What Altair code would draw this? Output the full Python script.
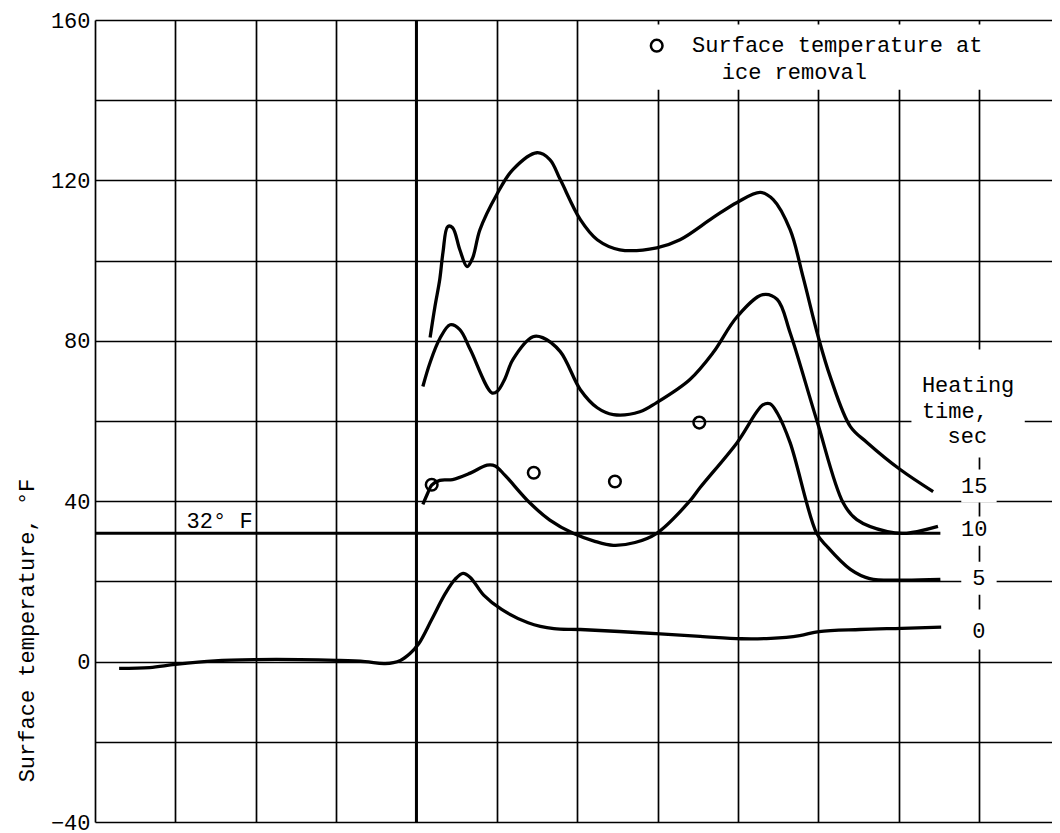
import altair as alt
import pandas as pd

FONT = "Liberation Mono"

# Curves (x in grid divisions, y in deg F)
x_0 = [0.30, 0.68, 1.00, 1.49, 2.00, 2.55, 3.01, 3.36, 3.61, 3.80, 3.92, 4.03, 4.19, 4.36, 4.48, 4.58, 4.67, 4.84, 5.06, 5.39, 5.71, 6.04, 6.79, 7.53, 8.04, 8.41, 8.77, 9.01, 9.52, 10.04, 10.53]
y_0 = [-1.7, -1.5, -0.7, 0.2, 0.5, 0.5, 0.3, 0.0, -0.5, 0.3, 2.0, 4.5, 10.5, 17.0, 20.5, 22.0, 21.0, 16.5, 13.0, 9.7, 8.2, 8.0, 7.2, 6.3, 5.7, 5.8, 6.5, 7.5, 8.0, 8.3, 8.6]

x_5 = [4.08, 4.14, 4.19, 4.29, 4.45, 4.67, 4.88, 4.98, 5.10, 5.41, 5.66, 5.95, 6.22, 6.45, 6.72, 6.99, 7.40, 7.53, 7.99, 8.31, 8.40, 8.49, 8.65, 8.98, 9.11, 9.40, 9.64, 10.02, 10.52]
y_5 = [39.2, 42.0, 44.0, 45.2, 45.4, 47.0, 49.0, 48.8, 46.5, 39.6, 35.3, 32.0, 30.0, 29.0, 29.7, 32.0, 40.0, 43.4, 54.6, 64.0, 64.3, 62.0, 54.6, 32.0, 28.7, 23.0, 20.7, 20.3, 20.5]

x_10 = [4.08, 4.17, 4.29, 4.42, 4.54, 4.67, 4.94, 5.01, 5.10, 5.20, 5.45, 5.57, 5.79, 6.04, 6.25, 6.45, 6.78, 6.99, 7.40, 7.69, 7.99, 8.31, 8.49, 8.65, 8.98, 9.31, 9.48, 9.86, 10.10, 10.49]
y_10 = [68.6, 74.6, 80.5, 84.0, 82.8, 77.8, 67.0, 67.5, 70.5, 75.3, 81.0, 80.8, 77.3, 67.8, 63.3, 61.6, 62.3, 64.6, 70.3, 77.0, 86.0, 91.5, 90.3, 82.0, 60.3, 39.6, 35.4, 32.4, 32.0, 33.7]

x_15 = [4.17, 4.23, 4.29, 4.33, 4.39, 4.45, 4.54, 4.63, 4.70, 4.79, 5.00, 5.20, 5.50, 5.66, 5.79, 6.04, 6.25, 6.53, 6.99, 7.28, 7.69, 7.99, 8.28, 8.44, 8.65, 8.81, 9.00, 9.15, 9.40, 9.61, 10.02, 10.43]
y_15 = [80.8, 88.5, 95.3, 102.0, 108.5, 108.2, 102.7, 98.5, 100.7, 107.7, 116.5, 122.7, 126.9, 125.2, 120.2, 110.2, 105.2, 102.7, 103.2, 105.2, 110.7, 114.5, 117.0, 115.2, 107.7, 96.0, 81.0, 71.0, 58.6, 54.6, 47.9, 42.4]

# Surface temperature at ice removal
ice_x = [4.19, 5.46, 6.47, 7.52]
ice_y = [44.1, 47.1, 44.9, 59.6]

# Heating-time labels
heat_labels = ["15", "10", "5", "0"]
heat_label_x = [10.94, 10.94, 11.0, 11.0]
heat_label_y = [42.1, 31.2, 19.2, 6.0]
heat_bg_y1 = [47.9, 36.2, 24.9, 13.0]
heat_bg_y2 = [39.7, 28.9, 16.7, 3.0]

y_ticks = [-40, -20, 0, 20, 40, 60, 80, 100, 120, 140, 160]
x_ticks = list(range(0, 12))

rows = []
for name, xs_, ys_ in [("0", x_0, y_0), ("5", x_5, y_5), ("10", x_10, y_10), ("15", x_15, y_15)]:
    for i, (a, b) in enumerate(zip(xs_, ys_)):
        rows.append({"series": name, "x": a, "y": b, "order": i})
curves_df = pd.DataFrame(rows)

xs = alt.Scale(domain=[0, 11.909], nice=False, zero=False)
ys = alt.Scale(domain=[-40, 160], nice=False, zero=False)

x_enc = alt.X("x:Q", scale=xs, axis=alt.Axis(values=x_ticks, labels=False, ticks=False,
                                             domain=False, grid=True, title=None))
y_axis = alt.Axis(values=y_ticks, ticks=False, domain=False, grid=True,
                  labelExpr="datum.value % 40 == 0 ? datum.label : ''",
                  labelFont=FONT, labelFontSize=22, labelColor="black", labelPadding=5,
                  title="Surface temperature, °F", titleFont=FONT, titleFontSize=22,
                  titleFontWeight="normal", titleColor="black", titleAngle=270,
                  titleX=-62, titleY=610, titleAlign="center", titleBaseline="alphabetic")
y_enc = alt.Y("y:Q", scale=ys, axis=y_axis)

base = alt.Chart(curves_df).mark_line(opacity=0).encode(x=x_enc, y=y_enc, detail="series:N")

# White background boxes behind annotations
bg_df = pd.DataFrame({
    "x1": [6.35, 10.16] + [10.78] * 4,
    "x2": [11.909, 11.57] + [11.22] * 4,
    "y1": [158.9, 77.8] + heat_bg_y1,
    "y2": [142.6, 50.9] + heat_bg_y2,
})
bg = alt.Chart(bg_df).mark_rect(fill="white").encode(
    x=alt.X("x1:Q", scale=xs), x2="x2:Q",
    y=alt.Y("y1:Q", scale=ys), y2="y2:Q")

vline = alt.Chart(pd.DataFrame({"x": [4.0]})).mark_rule(color="black", strokeWidth=3).encode(
    x=alt.X("x:Q", scale=xs))

freeze = alt.Chart(pd.DataFrame({"x1": [0.0], "x2": [10.52], "y": [32.0]})).mark_rule(
    color="black", strokeWidth=3).encode(
    x=alt.X("x1:Q", scale=xs), x2="x2:Q", y=alt.Y("y:Q", scale=ys))

curves = alt.Chart(curves_df).mark_line(color="black", strokeWidth=3.3, interpolate="catmull-rom").encode(
    x=alt.X("x:Q", scale=xs), y=alt.Y("y:Q", scale=ys), detail="series:N", order="order:Q")

ice_df = pd.DataFrame({"x": ice_x + [6.99], "y": ice_y + [153.6]})
ice = alt.Chart(ice_df).mark_point(shape="circle", filled=False, color="black",
                                   strokeWidth=2.5, size=135, opacity=1).encode(
    x=alt.X("x:Q", scale=xs), y=alt.Y("y:Q", scale=ys))

text_df = pd.DataFrame({
    "x": [7.43, 7.80, 10.29, 10.29, 10.61, 1.14],
    "y": [151.9, 145.4, 67.3, 60.8, 54.6, 33.4],
    "t": ["Surface temperature at", "ice removal", "Heating", "time,", "sec", "32° F"],
})
texts = alt.Chart(text_df).mark_text(font=FONT, fontSize=22, color="black", align="left",
                                     baseline="alphabetic").encode(
    x=alt.X("x:Q", scale=xs), y=alt.Y("y:Q", scale=ys), text="t:N")

lab_df = pd.DataFrame({"x": heat_label_x, "y": heat_label_y, "t": heat_labels})
labs = alt.Chart(lab_df).mark_text(font=FONT, fontSize=22, color="black", align="center",
                                   baseline="alphabetic").encode(
    x=alt.X("x:Q", scale=xs), y=alt.Y("y:Q", scale=ys), text="t:N")

chart = alt.layer(base, bg, vline, freeze, curves, ice, texts, labs).properties(
    width=957, height=802,
    padding={"left": 87, "top": 12, "right": 0, "bottom": 11},
    autosize=alt.AutoSizeParams(type="none"),
    background="white",
).configure_view(strokeWidth=0).configure_axis(
    gridColor="black", gridWidth=1.7, gridOpacity=1)

chart.save("out.html", embed_options={"renderer": "svg", "actions": False})
